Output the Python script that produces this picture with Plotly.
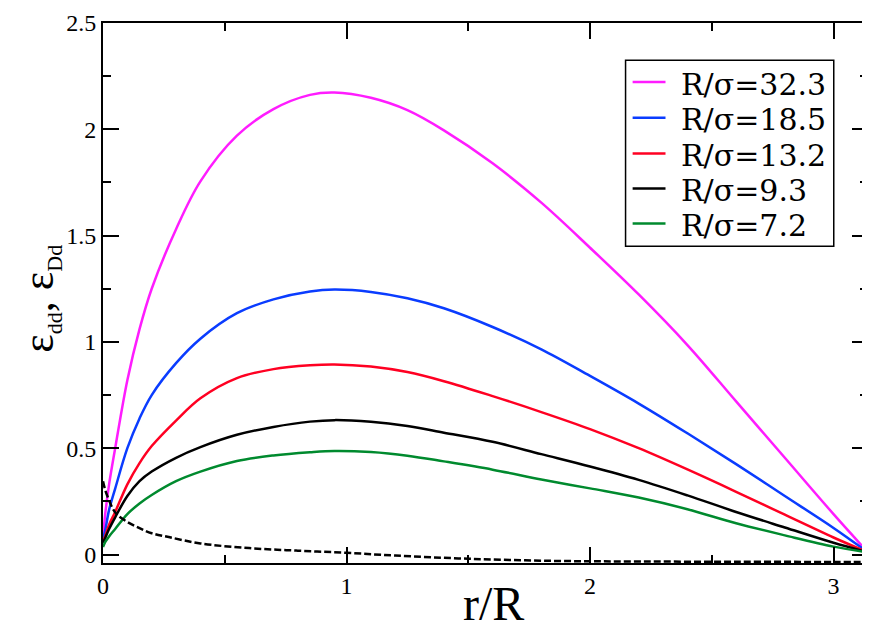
import plotly.graph_objects as go

x_grid = [0, 0.01, 0.025, 0.05, 0.1, 0.15, 0.2, 0.3, 0.4, 0.55, 0.7, 0.85, 0.95,
          1.1, 1.25, 1.4, 1.6, 1.8, 2.0, 2.2, 2.4, 2.6, 2.8, 3.0, 3.1416]

y_323 = [0.08, 0.20, 0.33, 0.50, 0.82, 1.06, 1.25, 1.53, 1.755, 1.97, 2.095, 2.162, 2.173,
         2.148, 2.09, 1.995, 1.84, 1.655, 1.443, 1.223, 0.985, 0.72, 0.455, 0.19, 0.01]
y_185 = [0.07, 0.12, 0.21, 0.31, 0.50, 0.64, 0.75, 0.90, 1.015, 1.135, 1.20, 1.237, 1.246,
         1.235, 1.205, 1.158, 1.07, 0.965, 0.84, 0.71, 0.57, 0.425, 0.275, 0.125, 0.01]
y_132 = [0.06, 0.09, 0.14, 0.20, 0.33, 0.43, 0.51, 0.63, 0.735, 0.83, 0.872, 0.89, 0.894,
         0.884, 0.858, 0.815, 0.745, 0.67, 0.59, 0.50, 0.40, 0.295, 0.187, 0.08, 0.01]
y_93 = [0.055, 0.08, 0.12, 0.175, 0.275, 0.345, 0.39, 0.455, 0.505, 0.563, 0.60, 0.625, 0.632,
        0.624, 0.604, 0.573, 0.53, 0.472, 0.414, 0.351, 0.278, 0.20, 0.127, 0.055, 0.01]
y_72 = [0.035, 0.06, 0.085, 0.12, 0.19, 0.24, 0.28, 0.345, 0.39, 0.44, 0.466, 0.481, 0.487,
        0.482, 0.465, 0.438, 0.399, 0.353, 0.311, 0.268, 0.213, 0.147, 0.09, 0.037, 0.01]

x_dash = [0, 0.01, 0.025, 0.04, 0.06, 0.1, 0.15, 0.2, 0.27, 0.4, 0.6, 0.8, 1.0, 1.2,
          1.5, 1.85, 2.2, 2.6, 3.0, 3.1416]
y_dash = [0.345, 0.30, 0.255, 0.216, 0.185, 0.153, 0.124, 0.10, 0.082, 0.052, 0.03, 0.018,
          0.008, -0.005, -0.02, -0.03, -0.033, -0.034, -0.035, -0.035]

labels = ["R/σ=32.3", "R/σ=18.5", "R/σ=13.2", "R/σ=9.3", "R/σ=7.2"]
series = [y_323, y_185, y_132, y_93, y_72]
colors = ["#ff1cff", "#0a3cff", "#ff0022", "#000000", "#008a2e"]

x_ticks = [0, 1, 2, 3]
y_ticks = [0, 0.5, 1, 1.5, 2, 2.5]
x_tick_text = ["0", "1", "2", "3"]
y_tick_text = ["0", "0.5", "1", "1.5", "2", "2.5"]

font_fam = "Liberation Serif"
legend_fam = "DejaVu Serif"

fig = go.Figure()
for lab, ys, col in zip(labels, series, colors):
    fig.add_trace(go.Scatter(x=x_grid, y=ys, mode="lines", name=lab, showlegend=False,
                             line=dict(color=col, width=2.5, shape="spline", smoothing=1.0)))
fig.add_trace(go.Scatter(x=x_dash, y=y_dash, mode="lines", showlegend=False,
                         line=dict(color="black", width=2.5, dash="7px,3px",
                                   shape="spline", smoothing=1.0)))

# legend box (drawn manually to match the compact legend of the reference)
leg_x0, leg_x1, leg_y0, leg_y1 = 2.146, 3.001, 1.45, 2.325
fig.add_shape(type="rect", xref="x", yref="y", x0=leg_x0, x1=leg_x1, y0=leg_y0, y1=leg_y1,
              line=dict(color="black", width=1.5), fillcolor="white", layer="above")
row_y = [2.222, 2.054, 1.886, 1.722, 1.557]
for lab, col, ry in zip(labels, colors, row_y):
    fig.add_shape(type="line", xref="x", yref="y", x0=2.175, x1=2.31, y0=ry, y1=ry,
                  line=dict(color=col, width=2.5), layer="above")
    fig.add_annotation(x=2.37, y=ry - 0.01, xref="x", yref="y", text=lab, showarrow=False,
                       xanchor="left", yanchor="middle", borderpad=0,
                       font=dict(family=legend_fam, size=30, color="black"))

# axis titles
fig.add_annotation(x=0.51, y=-0.125, xref="paper", yref="paper", text="r/R", showarrow=False,
                   xanchor="center", yanchor="bottom", borderpad=0,
                   font=dict(family=font_fam, size=48, color="black"))
fig.add_annotation(x=-0.082, y=0.49, xref="paper", yref="paper",
                   text="ε<sub><span style='font-size:22px'>dd</span></sub>, "
                        "ε<sub><span style='font-size:22px'>Dd</span></sub>",
                   showarrow=False, textangle=-90, xanchor="center", yanchor="middle",
                   borderpad=0,
                   font=dict(family=font_fam, size=44, color="black"))

axis_common = dict(showgrid=False, zeroline=False, showline=True, linecolor="black",
                   linewidth=2, mirror="ticks", ticks="inside", ticklen=16, tickwidth=1.5,
                   tickcolor="black", tickfont=dict(family=font_fam, size=24, color="black"))

fig.update_layout(
    width=862, height=624,
    margin=dict(l=95, r=0, t=15, b=69),
    paper_bgcolor="white", plot_bgcolor="white",
    font=dict(family=font_fam, color="black"),
    xaxis=dict(range=[0, 3.1416], tickvals=x_ticks, ticktext=x_tick_text,
               minor=dict(dtick=0.5, ticks="inside", ticklen=8, tickwidth=1.5, tickcolor="black"),
               **axis_common),
    yaxis=dict(range=[-0.04, 2.5], tickvals=y_ticks, ticktext=y_tick_text,
               minor=dict(dtick=0.25, ticks="inside", ticklen=8, tickwidth=1.5, tickcolor="black"),
               **axis_common),
    showlegend=False,
)

fig.write_html("out.html")
